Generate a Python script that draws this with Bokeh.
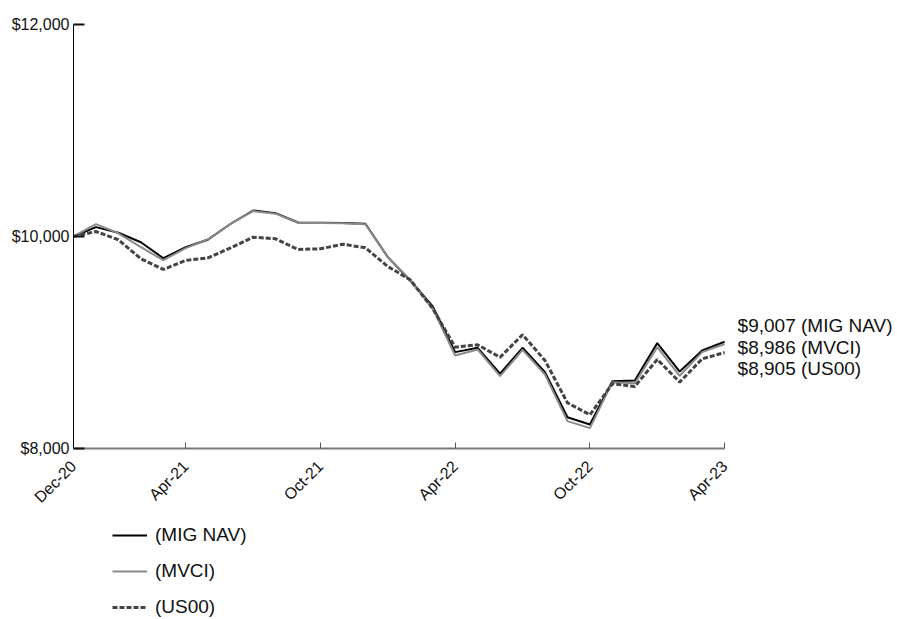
import math
from bokeh.plotting import figure
from bokeh.layouts import column
from bokeh.models import (ColumnDataSource, FixedTicker, NumeralTickFormatter,
                          Legend, LegendItem, Range1d)
from bokeh.core.properties import value
from bokeh.embed import file_html
from bokeh.resources import INLINE

# Growth of a $10,000 investment, month-end values
months = list(range(30))
mig_nav = [10000, 10088, 10035, 9946, 9795, 9899, 9972, 10120, 10245, 10220,
           10132, 10129, 10126, 10120, 9805, 9585, 9340, 8909, 8950, 8705,
           8950, 8720, 8295, 8226, 8635, 8642, 8994, 8726, 8925, 9007]
mvci = [10000, 10116, 10030, 9899, 9776, 9890, 9975, 10120, 10240, 10215,
        10130, 10127, 10124, 10115, 9805, 9590, 9320, 8877, 8934, 8682,
        8931, 8698, 8258, 8192, 8626, 8616, 8956, 8686, 8909, 8986]
us00 = [10000, 10047, 9969, 9790, 9689, 9774, 9799, 9893, 9993, 9978,
        9877, 9884, 9927, 9893, 9717, 9591, 9320, 8956, 8978, 8861,
        9073, 8830, 8431, 8318, 8610, 8585, 8840, 8626, 8846, 8905]

series_names = ["(MIG NAV)", "(MVCI)", "(US00)"]
tick_positions = [0, 5, 11, 17, 23, 29]
tick_labels = ["Dec-20", "Apr-21", "Oct-21", "Apr-22", "Oct-22", "Apr-23"]
y_ticks = [8000, 10000, 12000]

FONT = "Liberation Sans"
STYLES = [
    dict(line_color="#000000", line_width=2),
    dict(line_color="#8a8a8a", line_width=2),
    dict(line_color="#444444", line_width=3, line_dash="5 2"),
]

p = figure(width=897, height=522, output_backend="svg", toolbar_location=None,
           min_border_left=73, min_border_right=0, min_border_top=0,
           min_border_bottom=74,
           x_range=Range1d(0, 36.70), y_range=Range1d(8000, 12226))
p.outline_line_color = None
p.xgrid.visible = False
p.ygrid.visible = False

for ys, st in zip([mig_nav, mvci, us00], STYLES):
    p.line(months, ys, **st)

# end-of-period value labels
end_vals = [mig_nav[-1], mvci[-1], us00[-1]]
end_src = ColumnDataSource(dict(
    x=[months[-1]] * 3,
    y=end_vals,
    text=[f"${v:,} {n}" for v, n in zip(end_vals, series_names)],
    dy=[-16, 3.5, 16],
))
p.text(x="x", y="y", text="text", y_offset="dy", x_offset=13, source=end_src,
       text_font=value(FONT), text_font_size="19px", text_color="#111111",
       text_baseline="middle", text_align="left")

# axes
xa = p.xaxis[0]
xa.ticker = FixedTicker(ticks=tick_positions)
xa.major_label_overrides = {t: l for t, l in zip(tick_positions, tick_labels)}
xa.major_label_orientation = math.pi / 4
xa.bounds = (0, 29)
xa.axis_line_color = "#7a7a7a"
xa.axis_line_width = 2
xa.major_tick_in = 6
xa.major_tick_out = 0
xa.major_tick_line_color = "#555555"
xa.minor_tick_line_color = None
xa.major_label_text_font = FONT
xa.major_label_text_font_size = "16px"
xa.major_label_text_color = "#111111"
xa.major_label_standoff = 15

ya = p.yaxis[0]
ya.ticker = FixedTicker(ticks=y_ticks)
ya.formatter = NumeralTickFormatter(format="$0,0")
ya.bounds = (8000, 12000)
ya.axis_line_color = "#000000"
ya.axis_line_width = 1
ya.major_tick_in = 11
ya.major_tick_out = 0
ya.major_tick_line_color = "#111111"
ya.major_tick_line_width = 2
ya.minor_tick_line_color = None
ya.major_label_text_font = FONT
ya.major_label_text_font_size = "16px"
ya.major_label_text_color = "#111111"
ya.major_label_standoff = 4

# legend strip underneath the chart; key lines sit outside its visible range
lg = figure(width=897, height=97, output_backend="svg", toolbar_location=None,
            min_border=0, x_axis_type=None, y_axis_type=None,
            x_range=Range1d(0, 1), y_range=Range1d(0, 1))
lg.outline_line_color = None
key_renderers = [lg.line(x=[-5, -4], y=[-5, -4], **st) for st in STYLES]
legend = Legend(items=[LegendItem(label=n, renderers=[r])
                       for n, r in zip(series_names, key_renderers)],
                location=(39, 1), orientation="vertical",
                glyph_width=35, glyph_height=14, label_height=14,
                spacing=14, padding=0, margin=0, label_standoff=8,
                border_line_color=None, background_fill_alpha=0,
                label_text_font=FONT, label_text_font_size="19px",
                label_text_color="#111111")
lg.add_layout(legend, "center")

open("out.html", "w").write(file_html(column(p, lg, spacing=0), INLINE))
